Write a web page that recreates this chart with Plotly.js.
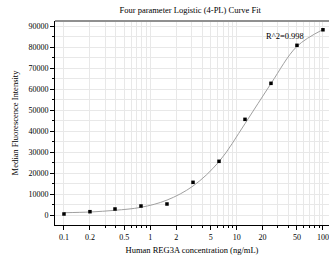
<!DOCTYPE html>
<html><head><meta charset="utf-8">
<script src="https://cdn.plot.ly/plotly-3.0.1.min.js"></script>
<style>html,body{margin:0;padding:0;background:#fff}#c{width:329px;height:262px}</style>
</head><body><div id="c"></div>
<script>
// Measured standards
const concentration = [0.1, 0.2, 0.39, 0.78, 1.56, 3.125, 6.25, 12.5, 25, 50, 100];
const intensity = [480, 1570, 2860, 4280, 5240, 15560, 25560, 45550, 62700, 80800, 88200];
// Fitted 4-PL curve
const curveX = [0.1, 0.2, 0.39, 0.78, 1.56, 3.125, 6.25, 12.5, 25, 50, 100];
const curveY = [1100, 1430, 2240, 3660, 7100, 13800, 25400, 43500, 62600, 80300, 88300];
// Tick labels
const xTickVals = [0.1, 0.2, 0.5, 1, 2, 5, 10, 20, 50, 100];
const xTickText = ["0.1", "0.2", "0.5", "1", "2", "5", "10", "20", "50", "100"];
const xMinorVals = [0.1,0.2,0.3,0.4,0.5,0.6,0.7,0.8,0.9,1,2,3,4,5,6,7,8,9,10,20,30,40,50,60,70,80,90,100];
const yTickVals = [0, 10000, 20000, 30000, 40000, 50000, 60000, 70000, 80000, 90000];
const yTickText = ["0", "10000", "20000", "30000", "40000", "50000", "60000", "70000", "80000", "90000"];
const r2Label = "R^2=0.998";

const font = "'Liberation Serif', 'Times New Roman', serif";
const grid = "#e8e8e8";
const ink = "#000000";

const traces = [
  {x: curveX, y: curveY, type: "scatter", mode: "lines",
   line: {color: "#a0a0a0", width: 1, shape: "spline", smoothing: 1}, hoverinfo: "skip"},
  {x: concentration, y: intensity, type: "scatter", mode: "markers",
   marker: {color: ink, size: 3.5, symbol: "square"}}
];

const layout = {
  width: 329, height: 262,
  margin: {l: 55, r: 0, t: 21, b: 37},
  paper_bgcolor: "#fff", plot_bgcolor: "#fff",
  showlegend: false,
  font: {family: font, size: 8, color: ink},
  title: {text: "Four parameter Logistic (4-PL) Curve Fit", font: {family: font, size: 8.5, color: ink},
          x: 0.578, xanchor: "center", y: 0.962, yanchor: "middle"},
  xaxis: {
    type: "log", range: [-1.104, 2.07],
    tickmode: "array", tickvals: xTickVals, ticktext: xTickText,
    ticks: "outside", ticklen: 4, tickwidth: 1, tickcolor: ink,
    showline: true, linecolor: ink, linewidth: 1,
    showgrid: true, gridcolor: grid, gridwidth: 1, zeroline: false,
    tickfont: {family: font, size: 8, color: ink},
    minor: {tickmode: "array", tickvals: xMinorVals, ticks: "outside", ticklen: 2, tickcolor: ink,
            showgrid: true, gridcolor: grid, gridwidth: 1},
    title: {text: "Human REG3A concentration (ng/mL)", font: {family: font, size: 8.5, color: ink}, standoff: 6}
  },
  yaxis: {
    range: [-4762, 92381],
    tickmode: "array", tickvals: yTickVals, ticktext: yTickText,
    ticks: "outside", ticklen: 4, tickwidth: 1, tickcolor: ink,
    showline: true, linecolor: ink, linewidth: 1,
    showgrid: true, gridcolor: grid, gridwidth: 1, zeroline: false,
    tickfont: {family: font, size: 8, color: ink},
    minor: {dtick: 5000, tick0: 0, ticks: "outside", ticklen: 2, tickcolor: ink,
            showgrid: true, gridcolor: grid, gridwidth: 1},
    title: {text: "Median Fluorescence Intensity", font: {family: font, size: 8.5, color: ink}, standoff: 8}
  },
  shapes: [
    {type: "line", xref: "paper", yref: "paper", x0: 0, x1: 1, y0: 1, y1: 1,
     line: {color: "#909090", width: 2}}
  ],
  annotations: [
    {text: r2Label, xref: "paper", yref: "paper", x: 0.84, y: 0.925, xanchor: "center", yanchor: "middle",
     showarrow: false, font: {family: font, size: 8.5, color: ink}}
  ]
};

Plotly.newPlot("c", traces, layout, {staticPlot: true, displayModeBar: false});
</script>
</body></html>
